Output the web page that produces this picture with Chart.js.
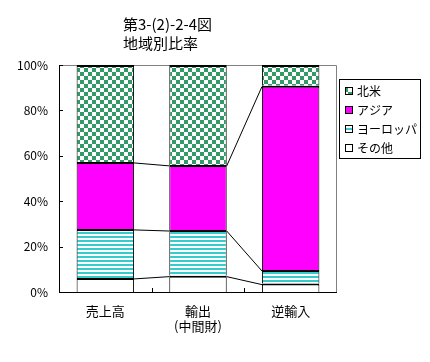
<!DOCTYPE html>
<html>
<head>
<meta charset="utf-8">
<script src="https://cdn.jsdelivr.net/npm/chart.js@4"></script>
<style>
  html, body { margin: 0; padding: 0; background: #fff; }
  #wrap { width: 430px; height: 362px; position: relative; }
</style>
</head>
<body>
<div id="wrap"><canvas id="c"></canvas></div>
<script>
// ---------- data ----------
const categories = [['売上高'], ['輸出', '(中間財)'], ['逆輸入']];
const titleLines = ['第3-(2)-2-4図', '地域別比率'];
const others  = [6.2, 7.2, 3.7];
const europe  = [21.6, 20.1, 6.0];
const asia    = [29.5, 28.7, 81.2];
const namer   = [42.7, 44.0, 9.1];
const yTicks  = [0, 20, 40, 60, 80, 100];

const FONT = '"Noto Sans CJK JP", "Noto Sans", sans-serif';

// ---------- patterns ----------
function checker() {
  const t = document.createElement('canvas');
  t.width = 8; t.height = 8;
  const g = t.getContext('2d');
  g.fillStyle = '#fff'; g.fillRect(0, 0, 8, 8);
  g.fillStyle = '#339966';
  g.fillRect(0, 0, 4, 4); g.fillRect(4, 4, 4, 4);
  return g.createPattern(t, 'repeat');
}
function stripes() {
  const t = document.createElement('canvas');
  t.width = 4; t.height = 4;
  const g = t.getContext('2d');
  g.fillStyle = '#fff'; g.fillRect(0, 0, 4, 4);
  g.fillStyle = '#33cccc'; g.fillRect(0, 0, 4, 2);
  return g.createPattern(t, 'repeat');
}
const pChecker = checker();
const pStripes = stripes();

const border = { top: 2, left: 1, right: 1, bottom: 0 };
function ds(label, data, bg) {
  return {
    label, data, backgroundColor: bg,
    borderColor: '#000', borderWidth: border, borderSkipped: false,
    barPercentage: 0.62, categoryPercentage: 1
  };
}

// ---------- plugins ----------
const frame = {
  id: 'frame',
  beforeDatasetsDraw(chart) {
    const { ctx, chartArea: a } = chart;
    ctx.save();
    ctx.strokeStyle = '#808080';
    ctx.lineWidth = 1;
    ctx.beginPath();
    ctx.moveTo(a.left, a.top + 0.5); ctx.lineTo(a.right - 0.5, a.top + 0.5);
    ctx.lineTo(a.right - 0.5, a.bottom);
    ctx.stroke();
    ctx.restore();
  },
  afterDatasetsDraw(chart) {
    const { ctx, chartArea: a, scales } = chart;
    ctx.save();
    ctx.strokeStyle = '#000';
    ctx.lineWidth = 1;
    // series lines between stacked segments
    const n = chart.data.datasets.length;
    for (let d = 0; d < n - 1; d++) {
      const els = chart.getDatasetMeta(d).data;
      for (let i = 0; i < els.length - 1; i++) {
        const e1 = els[i], e2 = els[i + 1];
        ctx.beginPath();
        ctx.moveTo(e1.x + e1.width / 2, e1.y + 1);
        ctx.lineTo(e2.x - e2.width / 2, e2.y + 1);
        ctx.stroke();
      }
    }
    // axes
    ctx.beginPath();
    ctx.moveTo(a.left + 0.5, a.top); ctx.lineTo(a.left + 0.5, a.bottom + 0.5);
    ctx.lineTo(a.right, a.bottom + 0.5);
    ctx.stroke();
    // inside tick marks
    yTicks.forEach(v => {
      const y = Math.round(scales.y.getPixelForValue(v)) + 0.5;
      ctx.beginPath(); ctx.moveTo(a.left, y); ctx.lineTo(a.left + 4, y); ctx.stroke();
    });
    const step = (a.right - a.left) / categories.length;
    for (let i = 1; i < categories.length; i++) {
      const x = Math.round(a.left + step * i) + 0.5;
      ctx.beginPath(); ctx.moveTo(x, a.bottom); ctx.lineTo(x, a.bottom - 4); ctx.stroke();
    }
    ctx.restore();
  },
  afterDraw(chart) {
    const { ctx } = chart;
    ctx.save();
    // title
    ctx.fillStyle = '#000';
    ctx.font = '15px ' + FONT;
    ctx.textBaseline = 'middle';
    ctx.textAlign = 'left';
    ctx.fillText(titleLines[0], 123, 24);
    ctx.fillText(titleLines[1], 123, 43);
    // legend box
    ctx.strokeStyle = '#000';
    ctx.lineWidth = 1;
    ctx.strokeRect(339.5, 79.5, 81, 79);
    const order = [3, 2, 1, 0];
    ctx.font = '12px ' + FONT;
    order.forEach((d, k) => {
      const set = chart.data.datasets[d];
      const cy = 91 + k * 19;
      ctx.fillStyle = set.backgroundColor;
      ctx.fillRect(345, cy - 4, 8, 8);
      ctx.strokeRect(345.5, cy - 3.5, 7, 7);
      ctx.fillStyle = '#000';
      ctx.fillText(set.label, 357, cy);
    });
    ctx.restore();
  }
};

// ---------- chart ----------
new Chart(document.getElementById('c'), {
  type: 'bar',
  data: {
    labels: categories,
    datasets: [
      ds('その他', others, '#ffffff'),
      ds('ヨーロッパ', europe, pStripes),
      ds('アジア', asia, '#ff00ff'),
      ds('北米', namer, pChecker)
    ]
  },
  options: {
    responsive: true,
    maintainAspectRatio: false,
    animation: false,
    layout: { padding: { top: 65, right: 93, left: 0, bottom: 0 } },
    plugins: { legend: { display: false }, tooltip: { enabled: false } },
    scales: {
      x: {
        stacked: true,
        grid: { display: false, drawTicks: false },
        border: { display: false },
        ticks: { color: '#000', font: { family: FONT, size: 13 }, padding: 11, maxRotation: 0 },
        afterFit(s) { s.height = 70; }
      },
      y: {
        stacked: true,
        min: 0, max: 100,
        afterBuildTicks(s) { s.ticks = yTicks.map(v => ({ value: v })); },
        grid: { display: false, drawTicks: false },
        border: { display: false },
        ticks: { color: '#000', font: { family: FONT, size: 12 }, padding: 11, callback: v => v + '%' },
        afterFit(s) { s.width = 59; }
      }
    }
  },
  plugins: [frame]
});
</script>
</body>
</html>
